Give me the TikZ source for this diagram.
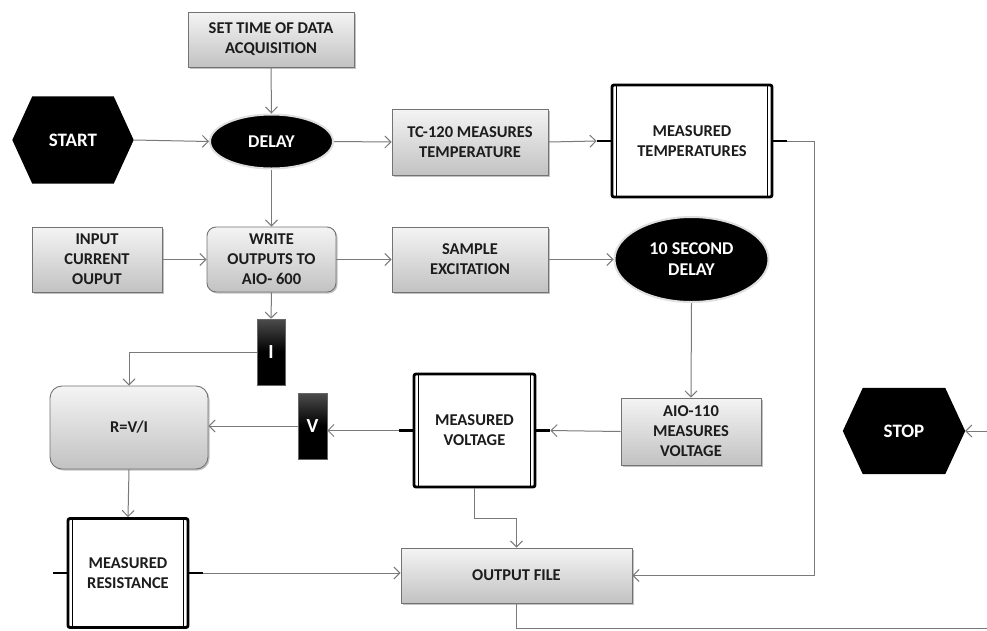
\documentclass[tikz,border=0pt]{standalone}
\usepackage{fontspec}
\setmainfont{Carlito}
\usetikzlibrary{shapes.geometric,arrows.meta,shadows,calc}
\definecolor{linegray}{HTML}{7A7A7A}
\definecolor{boxtop}{HTML}{F4F4F4}
\definecolor{boxbot}{HTML}{C2C2C2}
\definecolor{boxborder}{HTML}{737373}
\definecolor{txt}{HTML}{1C1C1C}
\newcommand\boxfont{\bfseries\fontsize{16.5}{20}\selectfont}
\newcommand\bigfont{\bfseries\fontsize{18}{21}\selectfont}
\tikzset{
  conn/.style={draw=linegray, line width=1pt, -{Straight Barb[length=6pt,width=12pt,line width=1pt]}},
  graybox/.style={rectangle, draw=boxborder, line width=0.9pt, top color=boxtop, bottom color=boxbot,
    drop shadow={shadow xshift=1.5pt, shadow yshift=-1.5pt, fill=black!40, opacity=0.6},
    font=\boxfont, text=txt, align=center, inner sep=2pt},
  roundbox/.style={graybox, rounded corners=9pt},
  blackell/.style={ellipse, fill=black, draw=gray!25, line width=2pt, text=white, font=\bigfont,
    align=center, inner sep=0pt},
  store/.style={rectangle, draw=black, line width=2.8pt, rounded corners=2pt, fill=white,
    font=\boxfont, text=txt, align=center, inner sep=2pt},
  tagbox/.style={rectangle, top color=black!70, bottom color=black, middle color=black, draw=black!60,
    line width=0.6pt, text=white, font=\bfseries\fontsize{20}{22}\selectfont, inner sep=0pt},
  hexbox/.style={rectangle, inner sep=0pt, text=white, font=\bfseries\fontsize{19}{22}\selectfont}
}
\newcommand\storedeco[1]{%
  \draw[line width=1.1pt] ([xshift=5.5pt,yshift=-1pt]#1.north west) -- ([xshift=5.5pt,yshift=1pt]#1.south west);
  \draw[line width=1.1pt] ([xshift=-5.5pt,yshift=-1pt]#1.north east) -- ([xshift=-5.5pt,yshift=1pt]#1.south east);
  \draw[line width=2.8pt] (#1.west) -- ++(-14,0) coordinate (#1L);
  \draw[line width=2.8pt] (#1.east) -- ++(14,0) coordinate (#1R);
}
\newcommand\hexdeco[1]{%
  \fill[black] (#1.west) -- ($(#1.north west)+(20,0)$) -- ($(#1.north east)+(-20,0)$) -- (#1.east)
    -- ($(#1.south east)+(-20,0)$) -- ($(#1.south west)+(20,0)$) -- cycle;
}
\begin{document}
\begin{tikzpicture}[x=1pt,y=-1pt]
\useasboundingbox (0,0) rectangle (987,630);
\fill[white] (0,0) rectangle (987,630);

% hexagons
\node[hexbox, minimum width=121, minimum height=87] (start) at (73,140) {};
\hexdeco{start}
\node[hexbox] at (start) {START};
\node[hexbox, minimum width=122, minimum height=86] (stop) at (904,431) {};
\hexdeco{stop}
\node[hexbox] at (stop) {STOP};

% gray boxes
\node[graybox, minimum width=166, minimum height=55] (settime) at (271,39.5) {SET TIME OF DATA\\ACQUISITION};
\node[graybox, minimum width=156, minimum height=66] (tc) at (470,142) {TC-120 MEASURES\\TEMPERATURE};
\node[graybox, minimum width=130, minimum height=65] (input) at (97,259.5) {INPUT\\CURRENT\\OUPUT};
\node[roundbox, minimum width=129, minimum height=65] (write) at (271.5,259.5) {WRITE\\OUTPUTS TO\\AIO- 600};
\node[graybox, minimum width=156, minimum height=65] (sample) at (470,259.5) {SAMPLE\\EXCITATION};
\node[roundbox, rounded corners=12pt, minimum width=158, minimum height=83] (r) at (129,427.5) {R=V/I};
\node[graybox, minimum width=140, minimum height=67] (aio) at (691,431.5) {AIO-110\\MEASURES\\VOLTAGE};
\node[graybox, minimum width=231, minimum height=55] (of) at (516.5,575.5) {OUTPUT FILE};

% ellipses
\node[blackell, minimum width=123, minimum height=54] (delay) at (271.5,141.5) {DELAY};
\node[blackell, minimum width=154, minimum height=85] (tsd) at (691.5,259.5) {10 SECOND\\DELAY};

% data stores
\node[store, minimum width=160, minimum height=112] (mt) at (692,141) {MEASURED\\TEMPERATURES};
\storedeco{mt}
\node[store, minimum width=121, minimum height=113] (mv) at (474.5,430.5) {MEASURED\\VOLTAGE};
\storedeco{mv}
\node[store, minimum width=120, minimum height=109] (mr) at (128,573) {MEASURED\\RESISTANCE};
\storedeco{mr}

% tags
\node[tagbox, minimum width=28, minimum height=66] (i) at (271,352) {I};
\node[tagbox, minimum width=29, minimum height=66] (v) at (312.5,426) {V};

% connectors
\draw[conn] (settime.south) -- (delay.north);
\draw[conn] (start.east) -- (delay.west);
\draw[conn] (delay.east) -- (tc.west);
\draw[conn] (tc.east) -- (mtL);
\draw[conn] (mtR) -- ++(27,0) |- (of.east);
\draw[conn] (delay.south) -- (write.north);
\draw[conn] (input.east) -- (write.west);
\draw[conn] (write.east) -- (sample.west);
\draw[conn] (sample.east) -- (tsd.west);
\draw[conn] (tsd.south) -- (aio.north);
\draw[conn] (aio.west) -- (mvR);
\draw[conn] (mvL) -- (mvL -| v.east);
\draw[conn] (v.west) -- (v.west -| r.east);
\draw[conn] (write.south) -- (i.north);
\draw[conn] (i.west) -| (r.north);
\draw[conn] (r.south) -- (mr.north);
\draw[conn] (mrR) -- (mrR -| of.west);
\draw[conn] (mv.south) -- ++(0,30) -| (of.north);
\coordinate (loopa) at (998,628);
\draw[conn] (of.south) |- (loopa) |- (stop.east);
\end{tikzpicture}
\end{document}
